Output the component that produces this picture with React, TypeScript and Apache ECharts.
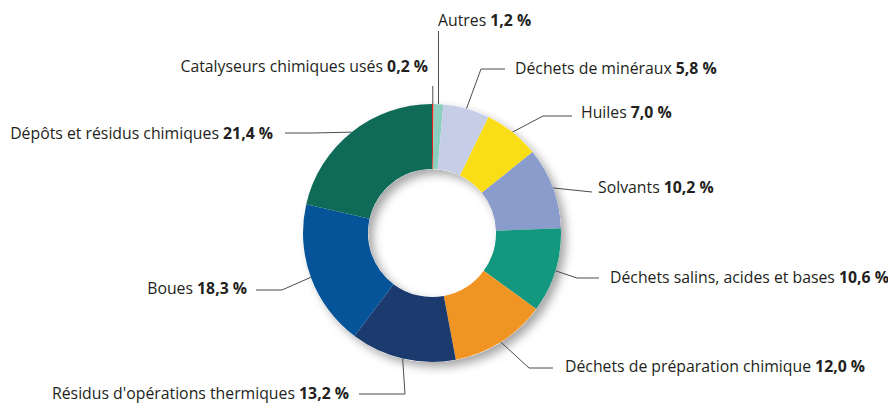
import React, { useEffect, useRef } from "react";
import * as echarts from "echarts";

const categories = [
  "Catalyseurs chimiques usés",
  "Autres",
  "Déchets de minéraux",
  "Huiles",
  "Solvants",
  "Déchets salins, acides et bases",
  "Déchets de préparation chimique",
  "Résidus d'opérations thermiques",
  "Boues",
  "Dépôts et résidus chimiques",
];
const values = [0.2, 1.2, 5.8, 7.0, 10.2, 10.6, 12.0, 13.2, 18.3, 21.4];
const colors = [
  "#e3241b",
  "#8dcfbf",
  "#c6cee7",
  "#f9dd16",
  "#8a9ccb",
  "#13977e",
  "#f09523",
  "#1b3a6d",
  "#055398",
  "#0f6b58",
];

// label placement (layout only): label anchor x,y, text alignment, and guide-line bends
const labelLayouts: { x: number; y: number; align: string; bends: number[][] }[] = [
  { x: 428, y: 66, align: "right", bends: [[-1, 86]] },
  { x: 438, y: 20, align: "left", bends: [[-1, 31]] },
  { x: 515, y: 68, align: "left", bends: [[481, 69], [505, 69]] },
  { x: 581, y: 112, align: "left", bends: [[543, 116], [572, 116]] },
  { x: 598, y: 187, align: "left", bends: [[592, 192]] },
  { x: 610, y: 277, align: "left", bends: [[577, 278], [599, 278]] },
  { x: 565, y: 366, align: "left", bends: [[529, 368], [553, 368]] },
  { x: 349, y: 393, align: "right", bends: [[405, 394], [359, 394]] },
  { x: 247, y: 288, align: "right", bends: [[282, 290], [256, 290]] },
  { x: 273, y: 133, align: "right", bends: [[313, 133], [285, 133]] },
];

const fmt = (v: number) => v.toFixed(1).replace(".", ",") + " %";

export default function App() {
  const ref = useRef<HTMLDivElement>(null);
  useEffect(() => {
    document.body.style.margin = "0";
    const chart = echarts.init(ref.current!, undefined, { renderer: "svg" });
    const center = [432, 233];
    const radius = [64, 129];
    const FS = 15.8;
    chart.setOption({
      animation: false,
      backgroundColor: "#ffffff",
      series: [
        {
          type: "pie",
          silent: true,
          center,
          radius,
          startAngle: 90,
          z: 1,
          label: { show: false },
          labelLine: { show: false },
          itemStyle: {
            color: "#ffffff",
            shadowBlur: 10,
            shadowOffsetX: 5,
            shadowOffsetY: 5,
            shadowColor: "rgba(0,0,0,0.35)",
          },
          data: [{ value: 1, name: "" }],
        },
        {
          type: "pie",
          silent: true,
          center,
          radius,
          startAngle: 90,
          clockwise: true,
          z: 2,
          avoidLabelOverlap: false,
          data: categories.map((name, i) => ({
            name,
            value: values[i],
            itemStyle: { color: colors[i] },
          })),
          itemStyle: { borderWidth: 0 },
          label: {
            show: true,
            position: "outside",
            fontFamily: "Open Sans",
            fontSize: FS,
            color: "#231f20",
            formatter: (p: any) => `{n|${p.name}} {v|${fmt(p.value)}}`,
            rich: {
              n: { fontFamily: "Open Sans", fontSize: FS, color: "#231f20" },
              v: { fontFamily: "Open Sans", fontSize: FS, fontWeight: "bold", color: "#231f20" },
            },
          },
          labelLine: {
            show: true,
            lineStyle: { color: "#4d4d4d", width: 1 },
          },
          labelLayout: (params: any) => {
            const L = labelLayouts[params.dataIndex];
            const start = params.labelLinePoints ? params.labelLinePoints[0] : null;
            const pts: number[][] = [];
            if (start) {
              pts.push([start[0], start[1]]);
              L.bends.forEach((b) => pts.push([b[0] < 0 ? start[0] : b[0], b[1]]));
            }
            return {
              x: L.x,
              y: L.y,
              align: L.align,
              verticalAlign: "middle",
              labelLinePoints: pts.length ? pts : undefined,
            };
          },
        },
      ],
    });
    return () => chart.dispose();
  }, []);
  return <div ref={ref} style={{ width: 888, height: 403 }} />;
}
